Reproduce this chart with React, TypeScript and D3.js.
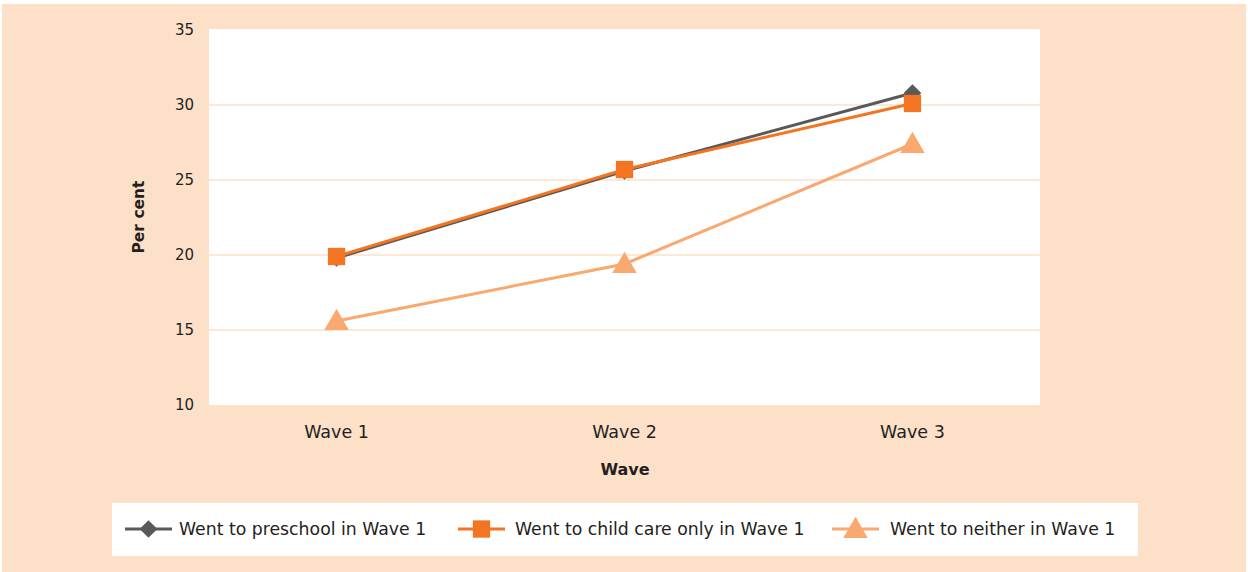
import React from "react";
import * as d3 from "d3";

const waves = ["Wave 1", "Wave 2", "Wave 3"];
const preschool = [19.8, 25.6, 30.8];
const childCareOnly = [19.9, 25.7, 30.1];
const neither = [15.6, 19.4, 27.4];
const yTicks = [10, 15, 20, 25, 30, 35];

const seriesNames = [
  "Went to preschool in Wave 1",
  "Went to child care only in Wave 1",
  "Went to neither in Wave 1",
];

const W = 1248;
const H = 572;
const plot = { left: 209, right: 1040, top: 30, bottom: 405 };
const FONT = "'DejaVu Sans', sans-serif";
const TEXT = "#231f20";
const BG = "#fde0c8";

const colors = ["#58595b", "#f47521", "#f9a870"];
const symbols = [d3.symbolDiamond2, d3.symbolSquare, d3.symbolTriangle];
const symbolSizes = [200, 300, 260];

export default function App() {
  const x = d3
    .scalePoint<string>()
    .domain(waves)
    .range([plot.left, plot.right])
    .padding(0.443);
  const y = d3.scaleLinear().domain([10, 35]).range([plot.bottom, plot.top]);

  const data = [preschool, childCareOnly, neither];
  const line = d3
    .line<number>()
    .x((_, i) => x(waves[i]) as number)
    .y((d) => y(d));

  // legend layout: [line start, text start]
  const legendItems = [
    { lx: 125, tx: 179 },
    { lx: 458, tx: 515 },
    { lx: 832, tx: 890 },
  ];
  const legendY = 529;

  const sym = (i: number, size: number) =>
    d3.symbol().type(symbols[i]).size(size)() as string;

  const symOffset = (i: number) => (i === 2 ? 2 : 0);

  return (
    <svg
      width={W}
      height={H}
      style={{ position: "absolute", left: 0, top: 0, display: "block" }}
    >
      <rect x={0} y={0} width={W} height={H} fill="#ffffff" />
      <rect x={2} y={4} width={W - 4} height={H - 4} fill={BG} />
      <rect
        x={plot.left}
        y={plot.top - 1}
        width={plot.right - plot.left}
        height={plot.bottom - plot.top + 1}
        fill="#ffffff"
      />
      {yTicks.slice(1, -1).map((t) => (
        <line
          key={t}
          x1={plot.left}
          x2={plot.right}
          y1={y(t)}
          y2={y(t)}
          stroke={BG}
          strokeWidth={1.5}
        />
      ))}
      {yTicks.map((t) => (
        <text
          key={t}
          x={194}
          y={y(t)}
          dy="0.35em"
          textAnchor="end"
          fontFamily={FONT}
          fontSize={15}
          fill={TEXT}
        >
          {t}
        </text>
      ))}
      {waves.map((w) => (
        <text
          key={w}
          x={x(w)}
          y={438}
          textAnchor="middle"
          fontFamily={FONT}
          fontSize={17.5}
          fill={TEXT}
        >
          {w}
        </text>
      ))}
      <text
        x={625}
        y={475}
        textAnchor="middle"
        fontFamily={FONT}
        fontSize={16}
        fontWeight="bold"
        fill={TEXT}
      >
        Wave
      </text>
      <text
        transform={`translate(144,217) rotate(-90)`}
        textAnchor="middle"
        fontFamily={FONT}
        fontSize={15.5}
        fontWeight="bold"
        fill={TEXT}
      >
        Per cent
      </text>

      {data.map((vals, si) => (
        <g key={si}>
          <path
            d={line(vals) as string}
            fill="none"
            stroke={colors[si]}
            strokeWidth={3}
          />
          {vals.map((v, i) => (
            <path
              key={i}
              d={sym(si, symbolSizes[si])}
              transform={`translate(${x(waves[i])},${y(v) + symOffset(si)})`}
              fill={colors[si]}
            />
          ))}
        </g>
      ))}

      <rect x={112} y={503} width={1026} height={53} fill="#ffffff" />
      {legendItems.map((it, i) => (
        <g key={i}>
          <line
            x1={it.lx}
            x2={it.lx + 47}
            y1={legendY}
            y2={legendY}
            stroke={colors[i]}
            strokeWidth={3}
          />
          <path
            d={sym(i, symbolSizes[i])}
            transform={`translate(${it.lx + 23.5},${legendY + symOffset(i)})`}
            fill={colors[i]}
          />
          <text
            x={it.tx}
            y={legendY}
            dy="0.35em"
            fontFamily={FONT}
            fontSize={17.3}
            fill={TEXT}
          >
            {seriesNames[i]}
          </text>
        </g>
      ))}
    </svg>
  );
}
